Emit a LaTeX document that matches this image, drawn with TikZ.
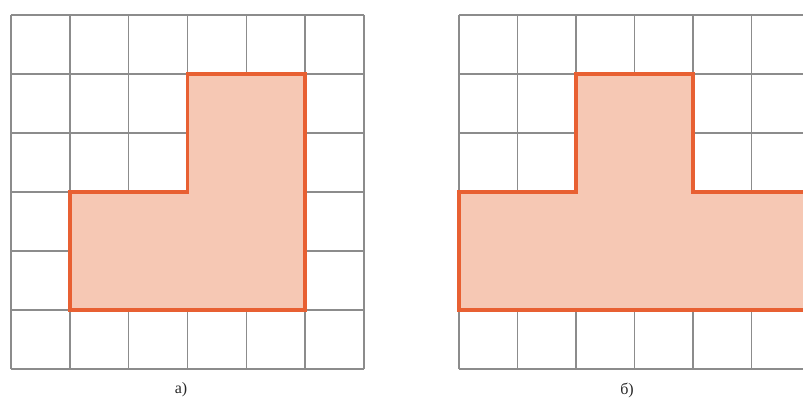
\documentclass[tikz,border=0pt]{standalone}
\usepackage{fontspec}
\setmainfont{Liberation Serif}
\definecolor{figline}{RGB}{232,96,50}
\definecolor{figfill}{RGB}{246,200,180}
\definecolor{gridgray}{RGB}{140,140,140}
\begin{document}
\begin{tikzpicture}[x=1pt,y=-1pt,
  gridline/.style={draw=gridgray, line width=1.4pt},
  figure/.style={draw=figline, fill=figfill, line width=3.6pt, line join=miter},
  caption/.style={font=\fontsize{16}{19}\selectfont, text=black!85}]
\useasboundingbox (0,0) rectangle (803,405);
\clip (0,0) rectangle (803,405);
% left grid
\begin{scope}[shift={(11,15)}, x=58.8pt, y=-59pt]
  \foreach \i in {0,...,6} {
    \draw[gridline] (\i,0) -- (\i,6);
    \draw[gridline] (0,\i) -- (6,\i);
  }
  \draw[figure] (3,1) -- (5,1) -- (5,5) -- (1,5) -- (1,3) -- (3,3) -- cycle;
\end{scope}
% right grid
\begin{scope}[shift={(459,15)}, x=58.5pt, y=-59pt]
  \foreach \i in {0,...,6} {
    \draw[gridline] (\i,0) -- (\i,6);
    \draw[gridline] (0,\i) -- (6,\i);
  }
  \draw[figure] (2,1) -- (4,1) -- (4,3) -- (6.4,3) -- (6.4,5) -- (0,5) -- (0,3) -- (2,3) -- cycle;
\end{scope}
\node[caption] (capa) at (181,390) {а)};
\node[caption] (capb) at (627,390) {б)};
\end{tikzpicture}
\end{document}
